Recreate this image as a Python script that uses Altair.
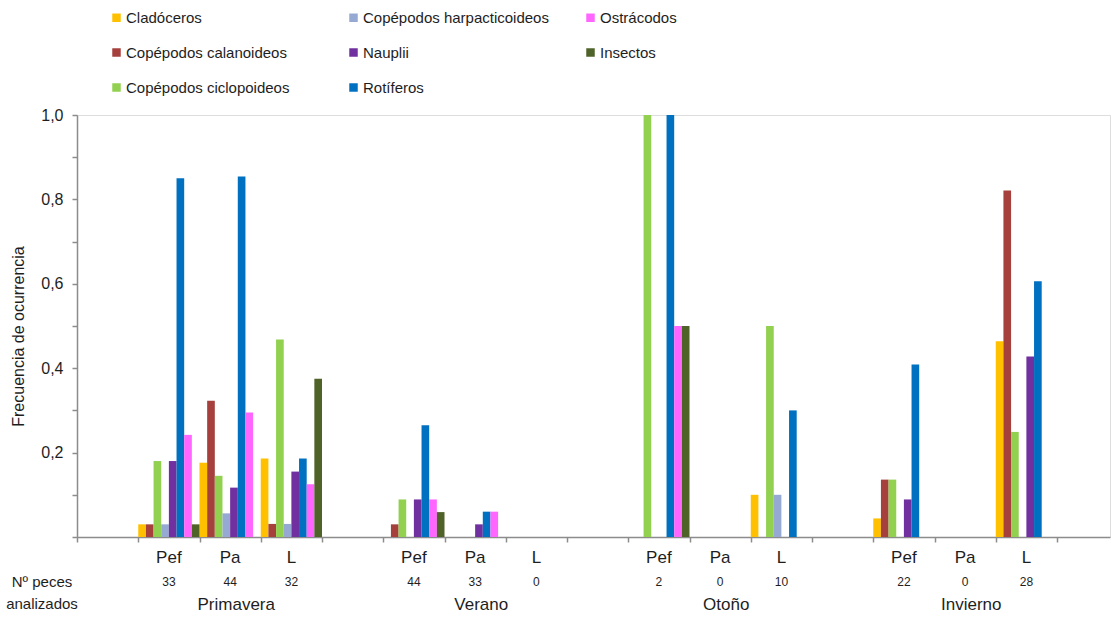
import altair as alt
import pandas as pd

# Prey groups, in the order the bars sit inside each site group
groups = [
    "Cladóceros",
    "Copépodos calanoideos",
    "Copépodos ciclopoideos",
    "Copépodos harpacticoideos",
    "Nauplii",
    "Rotíferos",
    "Ostrácodos",
    "Insectos",
]
group_colors = [
    "#FFC000",
    "#A5403D",
    "#92D050",
    "#95A9D3",
    "#7030A0",
    "#0070C0",
    "#FF66FF",
    "#4F6228",
]

seasons = ["Primavera", "Verano", "Otoño", "Invierno"]
sites = ["Pef", "Pa", "L"]

# Number of fish analysed, season by season, site by site
fish_counts = [33, 44, 32, 44, 33, 0, 2, 0, 10, 22, 0, 28]

# Frequency of occurrence, same site order as fish_counts
freq_cladoceros = [0.03, 0.176, 0.186, 0, 0, 0, 0, 0, 0.1, 0.044, 0, 0.464]
freq_calanoideos = [0.03, 0.323, 0.031, 0.03, 0, 0, 0, 0, 0, 0.136, 0, 0.821]
freq_ciclopoideos = [0.18, 0.145, 0.468, 0.089, 0, 0, 1.0, 0, 0.5, 0.136, 0, 0.249]
freq_harpacticoideos = [0.03, 0.056, 0.031, 0, 0, 0, 0, 0, 0.1, 0, 0, 0]
freq_nauplii = [0.18, 0.117, 0.155, 0.089, 0.03, 0, 0, 0, 0, 0.089, 0, 0.428]
freq_rotiferos = [0.85, 0.854, 0.186, 0.265, 0.06, 0, 1.0, 0, 0.3, 0.409, 0, 0.606]
freq_ostracodos = [0.242, 0.295, 0.125, 0.089, 0.06, 0, 0.5, 0, 0, 0, 0, 0]
freq_insectos = [0.03, 0, 0.375, 0.059, 0, 0, 0.5, 0, 0, 0, 0, 0]

series = [
    freq_cladoceros,
    freq_calanoideos,
    freq_ciclopoideos,
    freq_harpacticoideos,
    freq_nauplii,
    freq_rotiferos,
    freq_ostracodos,
    freq_insectos,
]

n_groups = len(groups)

# Each season takes four slots on the x scale: an empty one, then Pef, Pa, L
rows = []
for g, (name, vals) in enumerate(zip(groups, series)):
    for k, v in enumerate(vals):
        s, t = divmod(k, len(sites))
        slot = 1 + 4 * s + t
        rows.append({
            "grupo": name,
            "x": slot + g / n_groups,
            "x2": slot + (g + 1) / n_groups,
            "valor": v,
        })
bars_df = pd.DataFrame(rows)

site_rows = []
for k, n in enumerate(fish_counts):
    s, t = divmod(k, len(sites))
    site_rows.append({"x": 1 + 4 * s + t + 0.5, "sitio": sites[t], "n": str(n)})
sites_df = pd.DataFrame(site_rows)

season_df = pd.DataFrame({
    "x": [4 * s + 2.6 for s in range(len(seasons))],
    "estacion": seasons,
})

x_scale = alt.Scale(domain=[0, 16.865], nice=False, zero=False)
axis_grey = "#8C8C8C"
text_color = "#1E1E1E"
font = "Liberation Sans"

bars = alt.Chart(bars_df).mark_rect().encode(
    x=alt.X(
        "x:Q",
        scale=x_scale,
        title=None,
        axis=alt.Axis(
            values=list(range(17)),
            labels=False,
            grid=False,
            tickSize=5,
            tickColor=axis_grey,
            tickWidth=1.5,
            domainColor=axis_grey,
            domainWidth=1.5,
        ),
    ),
    x2="x2:Q",
    y=alt.Y(
        "valor:Q",
        scale=alt.Scale(domain=[0, 1], nice=False),
        axis=alt.Axis(
            values=[round(0.1 * i, 1) for i in range(11)],
            labelExpr="datum.value > 0.05 && round(datum.value * 10) % 2 == 0 ? replace(format(datum.value, '.1f'), '.', ',') : ''",
            grid=False,
            tickSize=5,
            tickColor=axis_grey,
            tickWidth=1.5,
            domainColor=axis_grey,
            domainWidth=1.5,
            labelPadding=9,
            labelFontSize=16,
            labelColor=text_color,
            labelFont=font,
            title="Frecuencia de ocurrencia",
            titleFontSize=16,
            titleFontWeight="normal",
            titleColor=text_color,
            titleFont=font,
            titleAngle=-90,
            titleAlign="center",
            titleBaseline="middle",
            titleX=-59,
            titleY=221,
        ),
    ),
    y2=alt.Y2(datum=0),
    color=alt.Color(
        "grupo:N",
        scale=alt.Scale(domain=groups, range=group_colors),
        legend=alt.Legend(
            title=None,
            orient="none",
            legendX=32,
            legendY=-105,
            columns=3,
            gridAlign="all",
            columnPadding=34,
            rowPadding=19,
            symbolType="square",
            symbolSize=72,
            symbolStrokeWidth=0,
            symbolOpacity=1,
            labelFontSize=15,
            labelFont=font,
            labelColor=text_color,
            labelLimit=400,
            labelOffset=2,
        ),
    ),
)

site_labels = alt.Chart(sites_df).mark_text(
    fontSize=17, font=font, color=text_color, baseline="middle"
).encode(x=alt.X("x:Q", scale=x_scale), y=alt.value(443), text="sitio:N")

count_labels = alt.Chart(sites_df).mark_text(
    fontSize=12, font=font, color=text_color, baseline="middle"
).encode(x=alt.X("x:Q", scale=x_scale), y=alt.value(467), text="n:N")

season_labels = alt.Chart(season_df).mark_text(
    fontSize=17, font=font, color=text_color, baseline="middle"
).encode(x=alt.X("x:Q", scale=x_scale), y=alt.value(490), text="estacion:N")

row_title = alt.Chart(pd.DataFrame({"t": ["Nº peces\nanalizados"]})).mark_text(
    fontSize=15, font=font, color=text_color, baseline="middle", align="center",
    lineBreak="\n", lineHeight=22,
).encode(x=alt.value(-35), y=alt.value(467), text="t:N")

chart = alt.layer(bars, site_labels, count_labels, season_labels, row_title).properties(
    width=1033,
    height=422,
    autosize=alt.AutoSizeParams(type="none"),
    padding={"left": 77, "top": 115, "right": 1, "bottom": 86},
    background="white",
).configure_view(strokeWidth=0).configure(font=font)

chart.save("out.html", embed_options={"renderer": "svg", "actions": False})
